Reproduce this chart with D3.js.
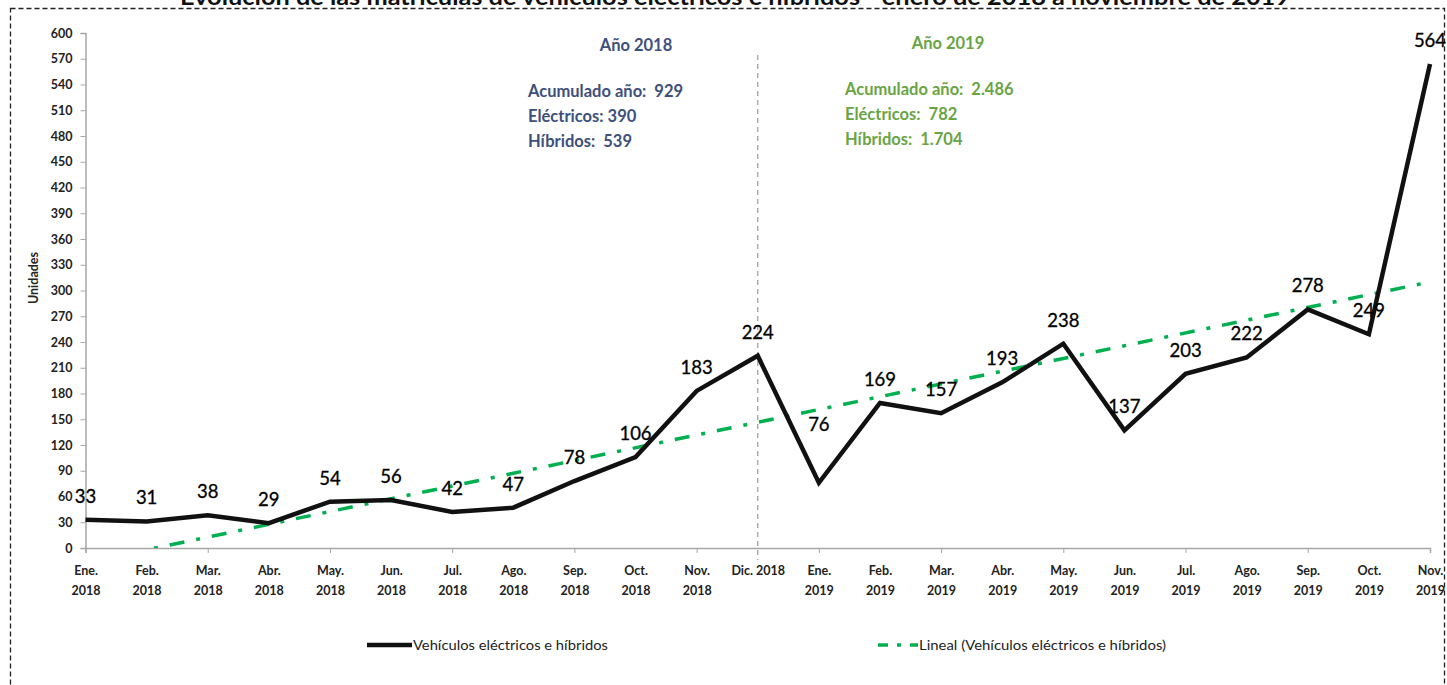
<!DOCTYPE html>
<meta charset="utf-8">
<style>
  body { margin: 0; background: #fff; }
  text { font-family: Lato, "Open Sans", sans-serif; }
</style>
<svg width="1447" height="685"></svg>
<script src="https://d3js.org/d3.v7.min.js"></script>
<script>

  var categories = ["Ene. 2018", "Feb. 2018", "Mar. 2018", "Abr. 2018", "May. 2018", "Jun. 2018",
    "Jul. 2018", "Ago. 2018", "Sep. 2018", "Oct. 2018", "Nov. 2018", "Dic. 2018",
    "Ene. 2019", "Feb. 2019", "Mar. 2019", "Abr. 2019", "May. 2019", "Jun. 2019",
    "Jul. 2019", "Ago. 2019", "Sep. 2019", "Oct. 2019", "Nov. 2019"];

  var values = [33, 31, 38, 29, 54, 56, 42, 47, 78, 106, 183, 224,
    76, 169, 157, 193, 238, 137, 203, 222, 278, 249, 564];

  // trend line ends (Excel "Lineal" trendline)
  var trendStart = -17,
    trendEnd = 310;

  var yTicks = [0, 30, 60, 90, 120, 150, 180, 210, 240, 270, 300, 330, 360, 390, 420, 450, 480, 510, 540, 570, 600];

  var title = "Evolución de las matrículas de vehículos eléctricos e híbridos - enero de 2018 a noviembre de 2019";
  var seriesName = "Vehículos eléctricos e híbridos",
    trendName = "Lineal (Vehículos eléctricos e híbridos)";

  var notes2018 = ["Acumulado año:  929", "Eléctricos: 390", "Híbridos:  539"],
    notes2019 = ["Acumulado año:  2.486", "Eléctricos:  782", "Híbridos:  1.704"];

  var svg = d3.select("svg");

  var x = d3.scalePoint()
    .domain(categories)
    .range([85.5, 1430]);

  var y = d3.scaleLinear()
    .domain([0, 600])
    .range([548, 33]);

  var axisColor = "#a6a6a6";

  // outer dashed frame
  svg.append("rect")
    .attr("x", 10.5).attr("y", 8.5)
    .attr("width", 1434).attr("height", 720)
    .attr("fill", "none")
    .attr("stroke", "#222")
    .attr("stroke-width", 1.3)
    .attr("stroke-dasharray", "5,3");

  // title, cut off at the top like the source image
  svg.append("text")
    .attr("x", 180).attr("y", 5)
    .attr("textLength", 1110)
    .attr("lengthAdjust", "spacingAndGlyphs")
    .attr("font-size", 22)
    .attr("font-weight", "bold")
    .attr("fill", "#111")
    .text(title);

  // y axis
  var yAxis = d3.axisLeft(y).tickValues(yTicks).tickSize(5).tickPadding(8);
  var yG = svg.append("g")
    .attr("transform", "translate(85.5,0)")
    .call(yAxis);
  yG.select(".domain").attr("stroke", axisColor).attr("stroke-width", 1.5);
  yG.selectAll(".tick line").attr("stroke", axisColor);
  yG.selectAll(".tick text")
    .attr("font-family", "Lato, sans-serif")
    .attr("font-size", 12.5)
    .attr("font-weight", "bold")
    .attr("fill", "#222");

  svg.append("text")
    .attr("transform", "translate(38,278) rotate(-90)")
    .attr("text-anchor", "middle")
    .attr("font-size", 12.5)
    .attr("font-weight", "bold")
    .attr("fill", "#222")
    .text("Unidades");

  // x axis
  var xAxis = d3.axisBottom(x).tickSize(5).tickPadding(6);
  var xG = svg.append("g")
    .attr("transform", "translate(0,548)")
    .call(xAxis);
  xG.select(".domain").attr("stroke", axisColor).attr("stroke-width", 1.5);
  xG.selectAll(".tick line")
    .attr("stroke", axisColor)
    .attr("display", function (d, i) { return i % 2 === 0 ? null : "none"; });
  xG.selectAll(".tick text").each(function (d) {
    var t = d3.select(this).text(null)
      .attr("font-family", "Lato, sans-serif")
      .attr("font-size", 12.5)
      .attr("font-weight", "bold")
      .attr("fill", "#222")
      .attr("y", 0)
      .attr("dy", null);
    var parts = d.split(" ");
    if (d === "Dic. 2018") parts = [d];
    parts.forEach(function (p, k) {
      t.append("tspan").attr("x", 0).attr("y", 27 + k * 20).text(p);
    });
  });

  // vertical separator between years
  svg.append("line")
    .attr("x1", x("Dic. 2018")).attr("x2", x("Dic. 2018"))
    .attr("y1", 55).attr("y2", 560)
    .attr("stroke", "#999")
    .attr("stroke-width", 1.2)
    .attr("stroke-dasharray", "5,4");

  // year notes
  function notes(cx, left, head, lines, color, top) {
    svg.append("text")
      .attr("x", cx).attr("y", top)
      .attr("text-anchor", "middle")
      .attr("font-size", 16.5)
      .attr("font-weight", "bold")
      .attr("fill", color)
      .text(head);
    svg.selectAll(null).data(lines).enter().append("text")
      .attr("x", left)
      .attr("y", function (d, i) { return top + 46 + i * 25; })
      .attr("font-size", 16.5)
      .attr("font-weight", "bold")
      .attr("fill", color)
      .attr("xml:space", "preserve")
      .style("white-space", "pre")
      .text(function (d) { return d; });
  }
  notes(636, 528, "Año 2018", notes2018, "#3e4f7c", 51);
  notes(948, 845, "Año 2019", notes2019, "#6aa443", 49);

  // trend line
  svg.append("clipPath").attr("id", "plot")
    .append("rect").attr("x", 85).attr("y", 33).attr("width", 1350).attr("height", 515);

  var first = categories[0], last = categories[categories.length - 1];
  svg.append("line")
    .attr("clip-path", "url(#plot)")
    .attr("x1", x(first)).attr("y1", y(trendStart))
    .attr("x2", x(last)).attr("y2", y(trendEnd))
    .attr("stroke", "#00b050")
    .attr("stroke-width", 3.5)
    .attr("stroke-dasharray", "15,12,4,12");

  // main series
  var data = categories.map(function (c, i) { return { cat: c, value: values[i] }; });

  var line = d3.line()
    .x(function (d) { return x(d.cat); })
    .y(function (d) { return y(d.value); });

  svg.append("path")
    .datum(data)
    .attr("fill", "none")
    .attr("stroke", "#111")
    .attr("stroke-width", 4.5)
    .attr("stroke-linejoin", "miter")
    .attr("d", line);

  // data labels (Ene. 2019 label was dragged up in the source)
  var nudge = { "Ene. 2019": -58 };
  svg.selectAll(".lbl").data(data).enter().append("text")
    .attr("class", "lbl")
    .attr("x", function (d) { return x(d.cat); })
    .attr("y", function (d) { return y(d.value) + (nudge[d.cat] !== undefined ? nudge[d.cat] + 6 : -17); })
    .attr("text-anchor", "middle")
    .attr("font-size", 18.5)
    .attr("fill", "#000")
    .attr("stroke", "#000")
    .attr("stroke-width", 0.3)
    .text(function (d) { return d.value; });

  // legend
  var lg = svg.append("g").attr("transform", "translate(0,645)");
  lg.append("line")
    .attr("x1", 367).attr("x2", 412)
    .attr("stroke", "#111").attr("stroke-width", 4.5);
  lg.append("text")
    .attr("x", 413).attr("y", 4.5)
    .attr("textLength", 195).attr("lengthAdjust", "spacingAndGlyphs")
    .attr("font-size", 13).attr("fill", "#222")
    .text(seriesName);
  lg.append("line")
    .attr("x1", 878).attr("x2", 918)
    .attr("stroke", "#00b050").attr("stroke-width", 3.5)
    .attr("stroke-dasharray", "10,9,4,9");
  lg.append("text")
    .attr("x", 919).attr("y", 4.5)
    .attr("textLength", 247).attr("lengthAdjust", "spacingAndGlyphs")
    .attr("font-size", 13).attr("fill", "#222")
    .text(trendName);

</script>
